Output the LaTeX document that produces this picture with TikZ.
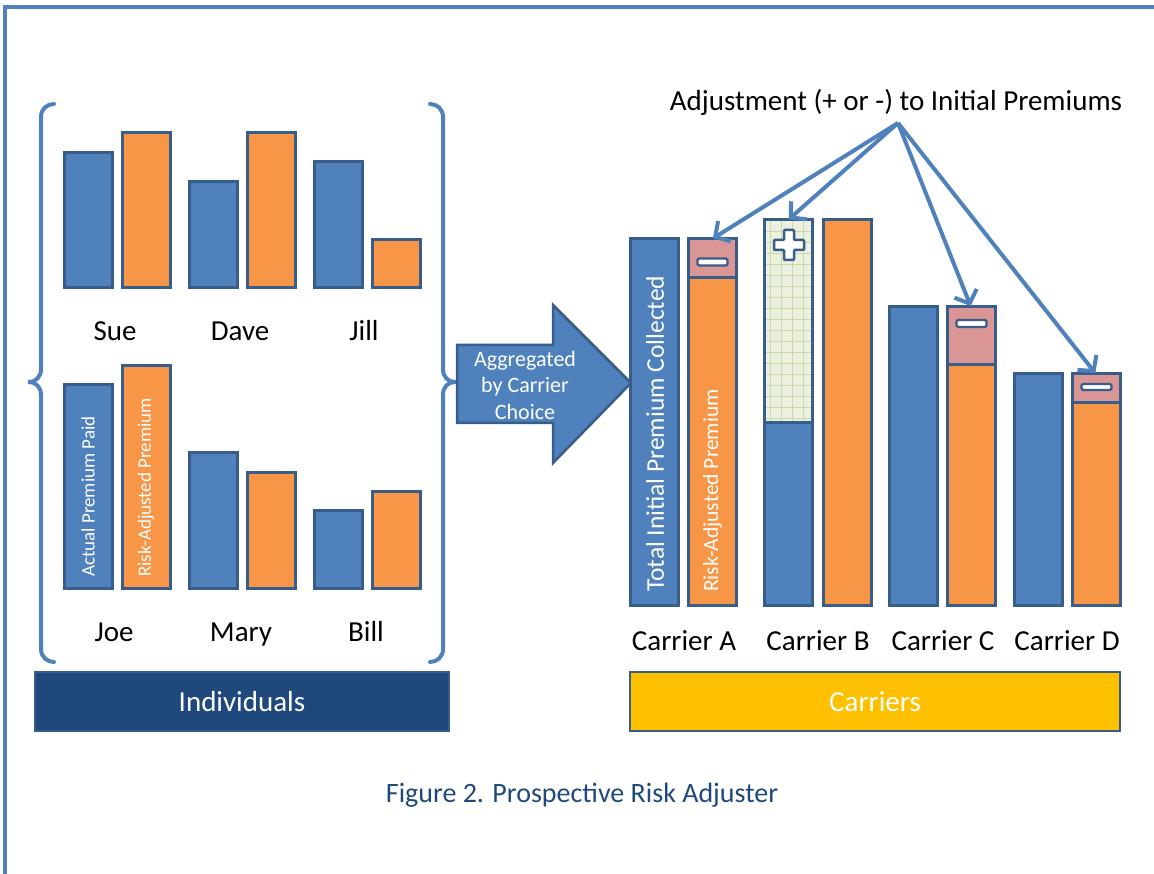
\documentclass[tikz,border=0pt]{standalone}
\usepackage{fontspec}
\setmainfont{Carlito}
\usetikzlibrary{arrows.meta}
\definecolor{ofblue}{HTML}{4F81BD}
\definecolor{oforange}{HTML}{F79646}
\definecolor{ofpink}{HTML}{D99694}
\definecolor{ofline}{HTML}{385D8A}
\definecolor{ofdark}{HTML}{1F497D}
\definecolor{ofgold}{HTML}{FFC000}
\definecolor{ofgreen}{HTML}{EBF1DE}
\definecolor{ofgrid}{HTML}{C9DAA8}
\begin{document}
\begin{tikzpicture}[x=1pt,y=-1pt,
 bar/.style={draw=ofline, line width=3pt, inner sep=0pt, outer sep=0pt, minimum width=48pt, anchor=south west},
 bluebar/.style={bar, fill=ofblue},
 orangebar/.style={bar, fill=oforange},
 pinkbar/.style={bar, fill=ofpink},
 lbl/.style={font=\fontsize{29}{34}\selectfont, text=black, text height=20pt, text depth=6pt, inner sep=0pt},
 brace/.style={draw=ofblue, line width=4pt, line cap=round},
 adjarrow/.style={draw=ofblue, line width=4pt, -{Straight Barb[length=11pt,width=24pt]}, shorten >=1pt},
 minussign/.style={draw=ofline, fill=white, line width=2.2pt, rounded corners=1.5pt, minimum width=30pt, minimum height=7pt, inner sep=0pt},
 vtext/.style={rotate=90, anchor=west, text=white, inner sep=0pt},
 footbox/.style={draw=ofline, line width=2pt, minimum width=#1, minimum height=59pt, inner sep=0pt, text=white, font=\fontsize{29}{34}\selectfont},
 ]
\useasboundingbox (0,0) rectangle (1154,874);
% page frame
\draw[ofblue, line width=4pt] (5,874) -- (5,7) -- (1154,7);

% braces
\draw[brace] (54,104) .. controls (47,104) and (41,109) .. (41,117) -- (41,369)
  .. controls (41,377) and (36,382) .. (28,382) .. controls (36,382) and (41,387) .. (41,395)
  -- (41,649) .. controls (41,657) and (47,662) .. (54,662);
\draw[brace] (430,104) .. controls (437,104) and (443,109) .. (443,117) -- (443,369)
  .. controls (443,377) and (448,382) .. (455,382) .. controls (448,382) and (443,387) .. (443,395)
  -- (443,649) .. controls (443,657) and (437,662) .. (430,662);

% individuals, top row
\node[bluebar, minimum height=135pt] (sueA) at (64,288) {};
\node[orangebar, minimum height=155pt] (sueR) at (122,288) {};
\node[bluebar, minimum height=106pt] (daveA) at (189,288) {};
\node[orangebar, minimum height=155pt] (daveR) at (247,288) {};
\node[bluebar, minimum height=126pt] (jillA) at (314,288) {};
\node[orangebar, minimum height=48pt] (jillR) at (372,288) {};
\node[lbl] (sueL) at (115,334) {Sue};
\node[lbl] (daveL) at (240,334) {Dave};
\node[lbl] (jillL) at (364,334) {Jill};

% individuals, bottom row
\node[bluebar, minimum height=203pt] (joeA) at (64,588) {};
\node[orangebar, minimum height=222pt] (joeR) at (122,588) {};
\node[bluebar, minimum height=136pt] (maryA) at (189,588) {};
\node[orangebar, minimum height=116pt] (maryR) at (247,588) {};
\node[bluebar, minimum height=78pt] (billA) at (314,588) {};
\node[orangebar, minimum height=97pt] (billR) at (372,588) {};
\node[vtext, font=\fontsize{19}{23}\selectfont] (joeAT) at (88,577) {Actual Premium Paid};
\node[vtext, font=\fontsize{19}{23}\selectfont] (joeRT) at (146,577) {Risk-Adjusted Premium};
\node[lbl] (joeL) at (114,634) {Joe};
\node[lbl] (maryL) at (241,634) {Mary};
\node[lbl] (billL) at (366,634) {Bill};

% aggregation arrow
\draw[fill=ofblue, draw=ofline, line width=2.5pt, line join=miter]
  (457,345) -- (553,345) -- (553,305) -- (631,383) -- (553,463) -- (553,423) -- (457,423) -- cycle;
\node[align=center, text=white, font=\fontsize{22}{26.5}\selectfont] (aggT) at (525,385) {Aggregated\\by Carrier\\Choice};

% Carrier A
\node[bluebar, minimum height=366pt] (aA) at (630,605) {};
\node[orangebar, minimum height=327pt] (aR) at (688,605) {};
\node[pinkbar, minimum height=39pt] (aAdj) at (688,278) {};
\node[minussign] (aMinus) at (712.5,262) {};
\node[vtext, font=\fontsize{25.5}{30}\selectfont] (aAT) at (655,592) {Total Initial Premium Collected};
\node[vtext, font=\fontsize{21.5}{26}\selectfont] (aRT) at (712.5,592) {Risk-Adjusted Premium};

% Carrier B
\node[bluebar, minimum height=182pt] (bA) at (764,605) {};
\node[bar, fill=ofgreen, minimum height=203pt] (bAdj) at (764,423) {};
\begin{scope}
  \clip (bAdj.south west) rectangle (bAdj.north east);
  \draw[ofgrid, line width=0.8pt, step=11pt] (bAdj.south west) grid (bAdj.north east);
\end{scope}
\draw[ofline, line width=3pt] (bAdj.south west) rectangle (bAdj.north east);
\draw[fill=white, draw=ofline, line width=2.5pt, rounded corners=1pt]
  (784,230) -- (794,230) -- (794,240) -- (804,240) -- (804,250) -- (794,250) -- (794,260)
  -- (784,260) -- (784,250) -- (774,250) -- (774,240) -- (784,240) -- cycle;
\node[orangebar, minimum height=385pt] (bR) at (823,605) {};

% Carrier C
\node[bluebar, minimum height=298pt] (cA) at (889,605) {};
\node[orangebar, minimum height=240pt] (cR) at (947,605) {};
\node[pinkbar, minimum height=58pt] (cAdj) at (947,365) {};
\node[minussign] (cMinus) at (971.5,323.5) {};

% Carrier D
\node[bluebar, minimum height=231pt] (dA) at (1014,605) {};
\node[orangebar, minimum height=202pt] (dR) at (1072,605) {};
\node[pinkbar, minimum height=29pt] (dAdj) at (1072,403) {};
\node[minussign, minimum height=6pt] (dMinus) at (1096.5,387) {};

% carrier labels
\node[lbl] (aL) at (684,643) {Carrier A};
\node[lbl] (bL) at (818,643) {Carrier B};
\node[lbl] (cL) at (943,643) {Carrier C};
\node[lbl] (dL) at (1067,643) {Carrier D};

% adjustment arrows
\node[lbl] (adjT) at (896,104) {Adjustment (+ or -) to Initial Premiums};
\coordinate (apex) at (898,123);
\draw[adjarrow] (apex) -- (aAdj.north);
\draw[adjarrow] (apex) -- (bAdj.north);
\draw[adjarrow] (apex) -- (cAdj.north);
\draw[adjarrow] (apex) -- (dAdj.north);

% footer boxes
\node[footbox=414pt, fill=ofdark] (indiv) at (242,701.5) {Individuals};
\node[footbox=490pt, fill=ofgold] (carr) at (875,701.5) {Carriers};

% caption
\node[font=\fontsize{28}{33}\selectfont, text=ofdark] (cap) at (582,795) {Figure 2. Prospective Risk Adjuster};
\end{tikzpicture}
\end{document}
